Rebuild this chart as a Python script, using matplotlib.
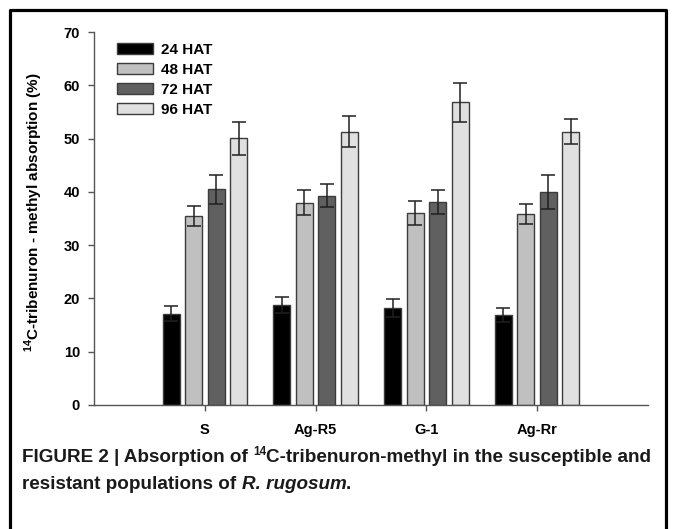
import matplotlib
matplotlib.use("Agg")
import matplotlib.pyplot as plt
from matplotlib.lines import Line2D
import numpy as np

categories = ["S", "Ag-R5", "G-1", "Ag-Rr"]
series_names = ["24 HAT", "48 HAT", "72 HAT", "96 HAT"]
h24 = [17.1, 18.8, 18.2, 16.9]
h48 = [35.5, 38.0, 36.0, 35.9]
h72 = [40.5, 39.3, 38.1, 40.0]
h96 = [50.1, 51.3, 56.8, 51.3]
e24 = [1.4, 1.5, 1.7, 1.3]
e48 = [1.9, 2.4, 2.2, 1.9]
e72 = [2.7, 2.2, 2.3, 3.2]
e96 = [3.1, 2.9, 3.6, 2.4]
yticks = [0, 10, 20, 30, 40, 50, 60, 70]
colors = ["#000000", "#c0c0c0", "#606060", "#e0e0e0"]

plt.rcParams['font.family'] = ['Liberation Sans', 'DejaVu Sans']
plt.rcParams['mathtext.fontset'] = 'custom'
plt.rcParams['mathtext.rm'] = 'Liberation Sans:bold'
plt.rcParams['mathtext.bf'] = 'Liberation Sans:bold'

W, H = 673, 529
fig = plt.figure(figsize=(W / 100, H / 100), dpi=100)
ax = fig.add_axes([94 / W, 1 - 405 / H, (648 - 94) / W, (405 - 32) / H])

x = np.arange(len(categories))
step = 0.203
width = 0.153
for i, (vals, errs) in enumerate(zip([h24, h48, h72, h96], [e24, e48, e72, e96])):
    pos = x + (i - 1.5) * step
    ax.bar(pos, vals, width, color=colors[i], edgecolor="#3c3c3c", linewidth=1.0,
           label=series_names[i], zorder=2)
    ax.errorbar(pos, vals, yerr=errs, fmt='none', ecolor='#202020', elinewidth=1.1,
                capsize=5, capthick=1.1, zorder=3)

ax.set_xlim(-1, 4)
ax.set_ylim(0, 70)
ax.set_yticks(yticks)
ax.set_yticklabels([str(t) for t in yticks], fontsize=10.5, fontweight='bold')
ax.set_xticks(x)
ax.set_xticklabels(categories, fontsize=10.5, fontweight='bold')
for s in ['top', 'right']:
    ax.spines[s].set_visible(False)
for s in ['left', 'bottom']:
    ax.spines[s].set_color('#555555')
    ax.spines[s].set_linewidth(1.0)
ax.tick_params(axis='y', direction='out', length=4, width=1, color='#555555', pad=6)
ax.tick_params(axis='x', direction='out', length=4, width=1, color='#555555', pad=9)

leg = ax.legend(loc='upper left', bbox_to_anchor=(0.041, 0.97), frameon=False,
                prop={'weight': 'bold', 'size': 11}, handlelength=2.35, handleheight=0.72,
                labelspacing=0.38, handletextpad=0.55, borderaxespad=0, borderpad=0)

fig.text(34 / W, 1 - 212 / H, r"$^{\mathbf{14}}$C-tribenuron - methyl absorption (%)",
         rotation=90, ha='center', va='center', fontsize=11.0, fontweight='bold')

# frame around figure (open at bottom)
fig.add_artist(Line2D([10 / W, 10 / W, 666 / W, 666 / W], [0, 1 - 10 / H, 1 - 10 / H, 0],
                      transform=fig.transFigure, color='black', linewidth=2.3))

# caption built from pieces
def rich_line(pieces, x0, y0):
    fig.canvas.draw()
    r = fig.canvas.get_renderer()
    xpix = x0
    for txt, kw in pieces:
        dy = kw.pop('dy', 0)
        t = fig.text(xpix / W, 1 - (y0 - dy) / H, txt, ha='left', va='baseline', **kw)
        bb = t.get_window_extent(renderer=r)
        xpix += bb.width

cs = 13.6
rich_line([("FIGURE 2 | Absorption of ", dict(fontsize=cs, fontweight='bold', color='#1a1a1a')),
           ("14", dict(fontsize=cs * 0.62, fontweight='bold', dy=7, color='#1a1a1a')),
           ("C-tribenuron-methyl in the susceptible and", dict(fontsize=cs, fontweight='bold', color='#1a1a1a'))],
          22, 462)
rich_line([("resistant populations of ", dict(fontsize=cs, fontweight='bold', color='#1a1a1a')),
           ("R. rugosum", dict(fontsize=cs, fontweight='bold', style='italic', color='#1a1a1a')),
           (".", dict(fontsize=cs, fontweight='bold', color='#1a1a1a'))],
          22, 489)

fig.savefig("out.png", dpi=100)
